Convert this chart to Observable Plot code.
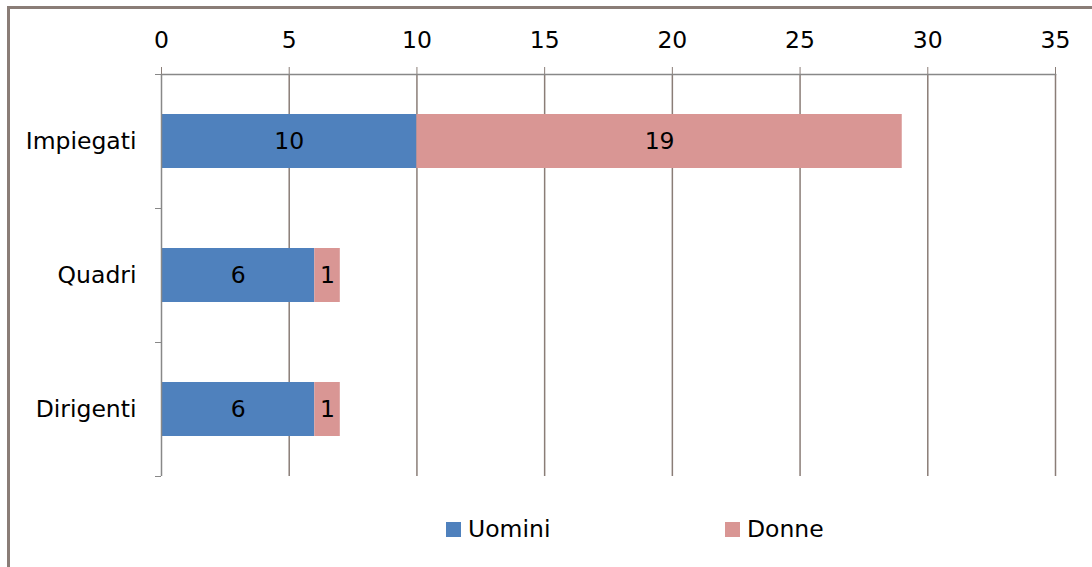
<!DOCTYPE html>
<html>
<head>
<meta charset="utf-8">
<script src="https://cdn.jsdelivr.net/npm/d3@7"></script>
<script src="https://cdn.jsdelivr.net/npm/@observablehq/plot@0.6"></script>
<style>
  html, body { margin: 0; padding: 0; background: #fff; }
  #wrap { position: relative; width: 1092px; height: 567px; overflow: hidden; font-family: "DejaVu Sans", sans-serif; }
  #frame { position: absolute; left: 7px; top: 6px; width: 1200px; height: 700px; border-left: 3px solid #8a7d77; border-top: 3px solid #8a7d77; box-sizing: border-box; }
  #chart { position: absolute; left: 0; top: 0; }
  .leg { position: absolute; display: flex; align-items: center; font-size: 23.5px; color: #000; }
  .sw { width: 15px; height: 15px; margin-right: 7px; }
</style>
</head>
<body>
<div id="wrap">
  <div id="frame"></div>
  <div id="chart"></div>
</div>
<script>
const categories = ["Impiegati", "Quadri", "Dirigenti"];
const series = ["Uomini", "Donne"];
const uomini = [10, 6, 6];
const donne = [19, 1, 1];
const colors = ["#4f81bd", "#d99694"];
const xTicks = [0, 5, 10, 15, 20, 25, 30, 35];

const data = [];
categories.forEach((c, i) => {
  data.push({cat: c, sex: series[0], value: uomini[i]});
  data.push({cat: c, sex: series[1], value: donne[i]});
});

const W = 1092, H = 567, mT = 74, mB = 91;
const step = (H - mT - mB) / categories.length;
const FS = 23.5;

const plot = Plot.plot({
  width: W,
  height: H,
  marginLeft: 161,
  marginRight: 37,
  marginTop: mT,
  marginBottom: mB,
  style: {fontFamily: "DejaVu Sans, sans-serif", fontSize: FS + "px", color: "#000", background: "transparent"},
  x: {domain: [0, 35], axis: null, label: null},
  y: {domain: categories, paddingInner: 0.6, paddingOuter: 0.3, axis: null, label: null},
  color: {domain: series, range: colors},
  marks: [
    Plot.ruleX(xTicks.filter(d => d > 0), {stroke: "#8a7d77", strokeWidth: 1.5, strokeOpacity: 1}),
    Plot.axisX({anchor: "top", ticks: xTicks, tickSize: 8, tickPadding: 19, stroke: "#8a7d77", fill: "#000", fontSize: FS, label: null, tickFormat: d => String(d)}),
    Plot.barX(data, Plot.stackX({x: "value", y: "cat", fill: "sex", order: series})),
    Plot.text(data, Plot.stackX({x: "value", y: "cat", z: "sex", order: series, text: d => String(d.value), fill: "#000", fontSize: FS})),
    Plot.ruleX([0], {stroke: "#888", strokeWidth: 1.5}),
    Plot.frame({anchor: "top", stroke: "#888", strokeWidth: 1.5}),
    Plot.axisY({anchor: "left", tickSize: 0, tickPadding: 25, fill: "#000", fontSize: FS, label: null}),
    Plot.axisY({anchor: "left", tickSize: 6, text: null, stroke: "#888", dy: -step / 2, label: null}),
    Plot.axisY({anchor: "left", ticks: [categories[categories.length - 1]], tickSize: 6, text: null, stroke: "#888", dy: step / 2, label: null})
  ]
});
document.getElementById("chart").appendChild(plot);

const wrap = document.getElementById("wrap");
const legendPos = [446, 725];
series.forEach((s, i) => {
  const d = document.createElement("div");
  d.className = "leg";
  d.style.left = legendPos[i] + "px";
  d.style.top = "515px";
  d.innerHTML = `<span class="sw" style="background:${colors[i]}"></span><span>${s}</span>`;
  wrap.appendChild(d);
});
</script>
</body>
</html>
